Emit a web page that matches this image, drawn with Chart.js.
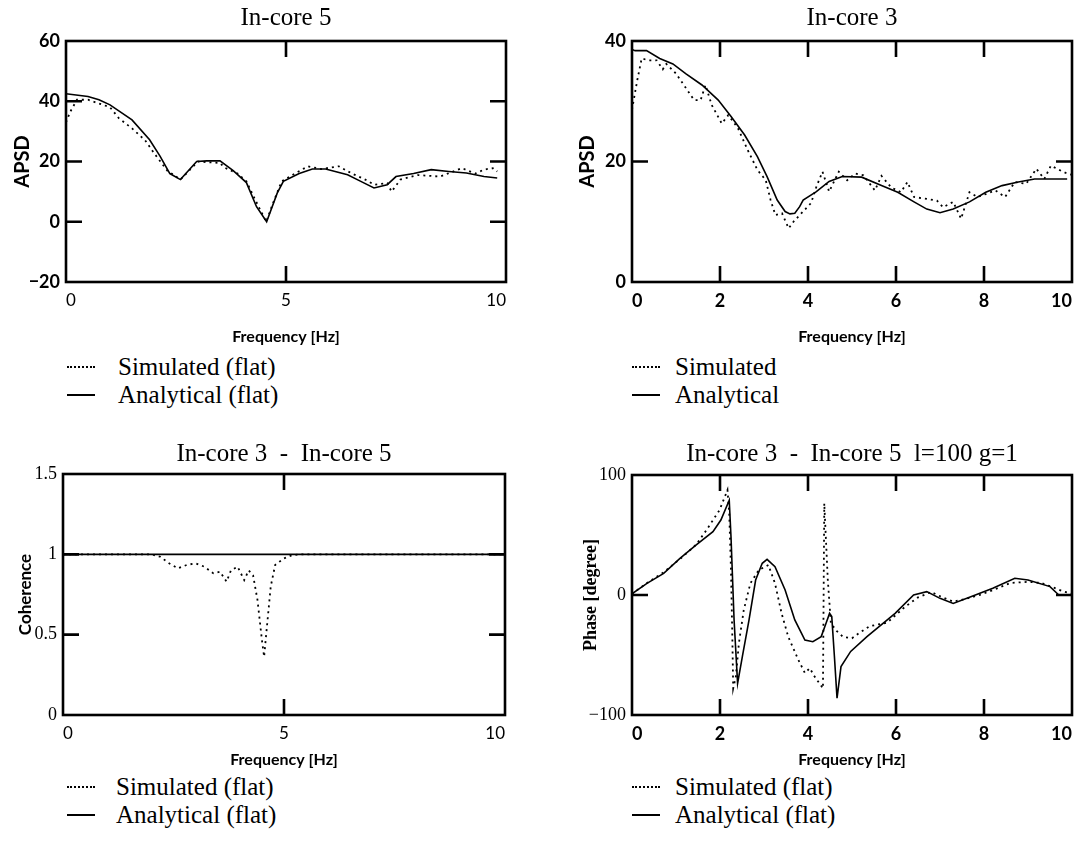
<!DOCTYPE html>
<html>
<head>
<meta charset="utf-8">
<script src="https://cdn.jsdelivr.net/npm/chart.js@4.4.0/dist/chart.umd.min.js"></script>
<style>
    body { margin: 0; background: #fff; }
    #page { position: relative; width: 1092px; height: 845px; overflow: hidden; background: #fff; }
    canvas { position: absolute; }
    .key { position: absolute; height: 30px; line-height: 30px; white-space: nowrap;
           font-family: "Liberation Serif", "Times New Roman", serif; font-size: 25px; color: #000; }
    .key span.line { position: absolute; left: 0; top: 14px; width: 28px; border-top: 2px solid #000; }
    .key span.line.dot { border-top-style: dotted; }
    .key span.txt { position: absolute; }
</style>
</head>
<body>
<div id="page">
    <canvas id="c1" style="left:0px;top:0px"></canvas>
    <canvas id="c2" style="left:560px;top:0px"></canvas>
    <canvas id="c3" style="left:0px;top:420px"></canvas>
    <canvas id="c4" style="left:560px;top:420px"></canvas>

    <div class="key" style="left:67px;top:352px"><span class="line dot"></span><span class="txt" style="left:51px">Simulated (flat)</span></div>
    <div class="key" style="left:67px;top:380px"><span class="line"></span><span class="txt" style="left:51px">Analytical (flat)</span></div>

    <div class="key" style="left:632px;top:352px"><span class="line dot"></span><span class="txt" style="left:43px">Simulated</span></div>
    <div class="key" style="left:632px;top:380px"><span class="line"></span><span class="txt" style="left:43px">Analytical</span></div>

    <div class="key" style="left:67px;top:772px"><span class="line dot"></span><span class="txt" style="left:49px">Simulated (flat)</span></div>
    <div class="key" style="left:67px;top:800px"><span class="line"></span><span class="txt" style="left:49px">Analytical (flat)</span></div>

    <div class="key" style="left:632px;top:772px"><span class="line dot"></span><span class="txt" style="left:43px">Simulated (flat)</span></div>
    <div class="key" style="left:632px;top:800px"><span class="line"></span><span class="txt" style="left:43px">Analytical (flat)</span></div>
</div>

<script>
// In-core 5 APSD
const ic5SimFreq = [0, 0.1, 0.25, 0.5, 1.0, 1.2, 1.5, 1.8, 2.0, 2.3, 2.6, 2.8, 3.0, 3.5, 3.6, 3.9, 4.1, 4.3, 4.45, 4.55, 4.7, 4.9, 5.2, 5.5, 5.8, 6.2, 6.5, 6.8, 7.0, 7.3, 7.4, 7.6, 8.0, 8.5, 9.0, 9.3, 9.5, 9.7, 9.8];
const ic5SimApsd = [33, 36.6, 40.5, 40.5, 38, 34.4, 31, 27, 22.8, 17, 14, 17, 20, 19.5, 18, 16, 13.4, 7.3, 2.9, 0, 6, 13.4, 16, 18.4, 17.5, 18.4, 16, 14, 12.3, 12.8, 10, 14, 15.5, 15, 17.8, 16, 17.3, 17.8, 16.7];
const ic5AnaFreq = [0, 0.5, 0.75, 1.0, 1.5, 1.9, 2.14, 2.36, 2.6, 2.97, 3.2, 3.5, 3.8, 4.1, 4.33, 4.56, 4.8, 4.94, 5.3, 5.6, 5.9, 6.4, 6.7, 7.0, 7.3, 7.5, 7.9, 8.3, 8.7, 9.1, 9.5, 9.8];
const ic5AnaApsd = [42.5, 41.6, 40.5, 38.8, 33.8, 27.2, 21.7, 16, 14, 20, 20.2, 20.2, 17, 13, 5, 0, 9.5, 13.4, 16, 17.5, 17.5, 15.6, 13.4, 11.2, 12.3, 15, 16, 17.3, 16.7, 16.2, 15, 14.5];

// In-core 3 APSD
const ic3SimFreq = [0, 0.12, 0.22, 0.37, 0.56, 0.70, 0.78, 1.0, 1.15, 1.41, 1.56, 1.67, 1.81, 2.04, 2.19, 2.41, 2.63, 2.85, 3.04, 3.15, 3.26, 3.41, 3.56, 3.67, 3.81, 4.07, 4.19, 4.33, 4.48, 4.70, 4.89, 5.07, 5.26, 5.52, 5.67, 5.89, 6.11, 6.26, 6.41, 6.70, 6.93, 7.07, 7.30, 7.48, 7.67, 7.85, 8.04, 8.26, 8.48, 8.70, 8.96, 9.19, 9.37, 9.52, 9.74, 9.89, 10];
const ic3SimApsd = [28.6, 33.5, 37.1, 36.8, 36.8, 35.3, 36.2, 34.6, 33, 30.2, 30.2, 32.7, 29.4, 26.3, 27.7, 25.5, 21.9, 18.6, 16.9, 13.6, 11.1, 11.4, 8.9, 10, 11.1, 13.1, 15.8, 18.3, 15, 18.3, 16.9, 18, 17.7, 15.2, 17.6, 15.7, 14.9, 16.6, 14.1, 13.8, 13.5, 12.4, 13.3, 10.5, 14.9, 14.1, 14.6, 15.2, 14.1, 16.6, 16.3, 18.8, 17.1, 19.3, 18.5, 18, 17.8];
const ic3AnaFreq = [0, 0.07, 0.33, 0.63, 0.93, 1.22, 1.59, 1.96, 2.26, 2.56, 2.85, 3.07, 3.30, 3.48, 3.59, 3.70, 3.81, 3.89, 4.19, 4.48, 4.78, 5.22, 5.67, 6.04, 6.41, 6.70, 7.0, 7.30, 7.67, 8.04, 8.41, 8.78, 9.15, 9.52, 9.89];
const ic3AnaApsd = [38.6, 38.4, 38.4, 37.1, 36.2, 34.6, 32.7, 30.2, 27.4, 24.4, 20.8, 17.5, 13.6, 11.7, 11.3, 11.4, 12.5, 13.6, 15, 16.7, 17.5, 17.4, 16, 14.9, 13.3, 12.1, 11.5, 12.1, 13.3, 14.9, 16, 16.6, 17.1, 17.1, 17.1];

// coherence In-core 3 - In-core 5
const cohSimFreq = [0, 2.0, 2.2, 2.4, 2.6, 2.8, 3.0, 3.2, 3.4, 3.55, 3.7, 3.8, 3.95, 4.1, 4.2, 4.3, 4.4, 4.5, 4.55, 4.6, 4.7, 4.8, 5.0, 5.2, 5.4, 10];
const cohSim = [1, 1, 0.985, 0.944, 0.913, 0.934, 0.944, 0.923, 0.882, 0.892, 0.83, 0.90, 0.923, 0.84, 0.9, 0.87, 0.716, 0.467, 0.363, 0.51, 0.8, 0.934, 0.975, 0.996, 1, 1];
const cohAnaFreq = [0, 10];
const cohAna = [1, 1];

// phase In-core 3 - In-core 5
const phSimFreq = [0, 0.34, 0.72, 1.09, 1.46, 1.69, 1.99, 2.17, 2.21, 2.25, 2.28, 2.30, 2.36, 2.43, 2.54, 2.69, 2.88, 3.10, 3.25, 3.40, 3.55, 3.78, 3.93, 4.04, 4.15, 4.34, 4.37, 4.45, 4.52, 4.65, 4.8, 5.0, 5.15, 5.4, 5.8, 6.2, 6.5, 6.8, 7.0, 7.3, 7.6, 7.9, 8.2, 8.6, 9.0, 9.3, 9.6, 9.8, 10];
const phSim = [1, 10, 19, 30, 42, 54, 70.8, 87.5, 68, 20.8, -34.7, -77.8, -68, -40, -12.5, 9.7, 20.8, 25, 9.7, -15.3, -34.7, -54, -65, -61, -68, -77.8, 76.4, 12.5, -23.6, -30, -35, -36, -32, -26, -23, -10, -2, 2.5, -1, -5.6, -3, 0, 4, 10, 11, 10, 6, 3, 1];
const phAnaFreq = [0, 0.34, 0.72, 1.09, 1.46, 1.84, 2.02, 2.21, 2.25, 2.32, 2.40, 2.51, 2.66, 2.81, 2.96, 3.07, 3.25, 3.48, 3.70, 3.93, 4.11, 4.30, 4.41, 4.49, 4.54, 4.60, 4.66, 4.75, 4.97, 5.34, 5.98, 6.4, 6.7, 7.0, 7.3, 7.7, 8.2, 8.7, 9.0, 9.5, 9.7, 10];
const phAna = [1, 9.7, 18, 30.5, 41.7, 52.8, 62.5, 79, 48.6, -20.8, -73.6, -51, -20.8, 12.5, 26.4, 29.7, 23.6, 4.2, -20.8, -37.5, -38.9, -34.7, -23.6, -15.3, -18, -51, -86, -59.7, -47, -34.7, -15.3, 0, 2.8, -2.8, -7, -1.4, 5.6, 13.9, 12.5, 7, 0, 0];


const toPoints = (xs, ys) => xs.map((x, i) => ({ x: x, y: ys[i] }));
const minus = v => (v < 0 ? "\u2212" + Math.abs(v) : String(v));

// box round the plot area with the short ticks pointing inward
const frameTicks = {
    id: "frameTicks",
    afterDatasetsDraw(chart) {
        const { ctx, chartArea: a, scales: { x, y } } = chart;
        const len = 16;
        ctx.save();
        ctx.strokeStyle = "#000";
        ctx.lineWidth = 2.6;
        ctx.strokeRect(a.left, a.top, a.right - a.left, a.bottom - a.top);
        ctx.beginPath();
        x.ticks.forEach(t => {
            if (t.value <= x.min || t.value >= x.max) return;
            const px = x.getPixelForValue(t.value);
            ctx.moveTo(px, a.top); ctx.lineTo(px, a.top + len);
            ctx.moveTo(px, a.bottom); ctx.lineTo(px, a.bottom - len);
        });
        y.ticks.forEach(t => {
            if (t.value <= y.min || t.value >= y.max) return;
            const py = y.getPixelForValue(t.value);
            ctx.moveTo(a.left, py); ctx.lineTo(a.left + len, py);
            ctx.moveTo(a.right, py); ctx.lineTo(a.right - len, py);
        });
        ctx.stroke();
        ctx.restore();
    }
};

function panel(id, p) {
    const canvas = document.getElementById(id);
    canvas.width = p.w;
    canvas.height = p.h;
    canvas.style.width = p.w + "px";
    canvas.style.height = p.h + "px";

    return new Chart(canvas, {
        type: "line",
        data: {
            datasets: [
                {
                    label: p.anaLabel,
                    data: p.ana,
                    borderColor: "#000",
                    borderWidth: 1.6,
                    pointRadius: 0,
                    tension: 0
                },
                {
                    label: p.simLabel,
                    data: p.sim,
                    borderColor: "#000",
                    borderWidth: 1.8,
                    borderDash: [2, 4],
                    pointRadius: 0,
                    tension: 0
                }
            ]
        },
        options: {
            responsive: false,
            animation: false,
            events: [],
            layout: { padding: { left: 0, right: p.padRight, top: 0, bottom: 0 } },
            plugins: {
                legend: { display: false },
                tooltip: { enabled: false },
                title: {
                    display: true,
                    text: p.title,
                    fullSize: false,
                    color: "#000",
                    font: { family: "Liberation Serif", size: 25, weight: "normal" },
                    padding: { top: p.titleTop, bottom: p.titleBottom }
                }
            },
            scales: {
                x: {
                    type: "linear",
                    min: 0,
                    max: 10,
                    afterFit: s => { s.height = p.xHeight; },
                    grid: { display: false, drawTicks: false },
                    border: { display: false },
                    ticks: {
                        stepSize: p.xStep,
                        align: "inner",
                        padding: 8,
                        maxRotation: 0,
                        color: "#000",
                        font: p.xTickFont
                    },
                    title: {
                        display: true,
                        text: "Frequency [Hz]",
                        color: "#000",
                        font: { family: "Lato", size: 16, weight: "bold" },
                        padding: { top: 0, bottom: 0 }
                    }
                },
                y: {
                    min: p.yMin,
                    max: p.yMax,
                    afterFit: s => { s.width = p.yWidth; },
                    grid: { display: false, drawTicks: false },
                    border: { display: false },
                    ticks: {
                        stepSize: p.yStep,
                        padding: 6,
                        color: "#000",
                        font: p.yTickFont,
                        callback: minus
                    },
                    title: {
                        display: true,
                        text: p.yTitle,
                        color: "#000",
                        font: p.yTitleFont,
                        padding: { top: p.yTitlePad, bottom: 0 }
                    }
                }
            }
        },
        plugins: [frameTicks]
    });
}

document.addEventListener("DOMContentLoaded", function () {
    const sansBold = { family: "Lato", size: 18, weight: "bold" };
    const sansPlain = { family: "Lato", size: 17, weight: "normal" };
    const serifPlain = { family: "Liberation Serif", size: 18, weight: "normal" };

    panel("c1", {
        w: 540, h: 346, padRight: 34, yWidth: 66, xHeight: 64,
        title: "In-core 5", titleTop: 3, titleBottom: 8,
        yMin: -20, yMax: 60, yStep: 20, xStep: 5,
        yTitle: "APSD", yTitlePad: 11,
        yTitleFont: { family: "Lato", size: 20, weight: "bold" },
        xTickFont: sansPlain, yTickFont: sansBold,
        simLabel: "Simulated (flat)", anaLabel: "Analytical (flat)",
        sim: toPoints(ic5SimFreq, ic5SimApsd),
        ana: toPoints(ic5AnaFreq, ic5AnaApsd)
    });

    panel("c2", {
        w: 532, h: 346, padRight: 20, yWidth: 72, xHeight: 64,
        title: "In-core 3", titleTop: 3, titleBottom: 8,
        yMin: 0, yMax: 40, yStep: 20, xStep: 2,
        yTitle: "APSD", yTitlePad: 16,
        yTitleFont: { family: "Lato", size: 20, weight: "bold" },
        xTickFont: sansBold, yTickFont: sansBold,
        simLabel: "Simulated", anaLabel: "Analytical",
        sim: toPoints(ic3SimFreq, ic3SimApsd),
        ana: toPoints(ic3AnaFreq, ic3AnaApsd)
    });

    panel("c3", {
        w: 540, h: 349, padRight: 35, yWidth: 63, xHeight: 54,
        title: "In-core 3  -  In-core 5", titleTop: 19, titleBottom: 5,
        yMin: 0, yMax: 1.5, yStep: 0.5, xStep: 5,
        yTitle: "Coherence", yTitlePad: 15,
        yTitleFont: { family: "Lato", size: 17, weight: "bold" },
        xTickFont: sansPlain, yTickFont: serifPlain,
        simLabel: "Simulated (flat)", anaLabel: "Analytical (flat)",
        sim: toPoints(cohSimFreq, cohSim),
        ana: toPoints(cohAnaFreq, cohAna)
    });

    panel("c4", {
        w: 532, h: 349, padRight: 20, yWidth: 72, xHeight: 54,
        title: "In-core 3  -  In-core 5  l=100 g=1", titleTop: 19, titleBottom: 6,
        yMin: -100, yMax: 100, yStep: 100, xStep: 2,
        yTitle: "Phase [degree]", yTitlePad: 21,
        yTitleFont: { family: "Liberation Serif", size: 18, weight: "bold" },
        xTickFont: sansBold, yTickFont: serifPlain,
        simLabel: "Simulated (flat)", anaLabel: "Analytical (flat)",
        sim: toPoints(phSimFreq, phSim),
        ana: toPoints(phAnaFreq, phAna)
    });
});
</script>
</body>
</html>
